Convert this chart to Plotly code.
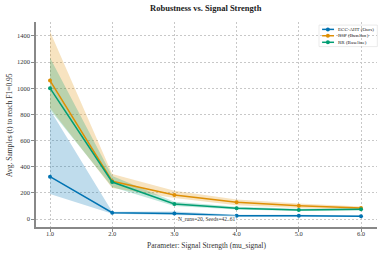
import plotly.graph_objects as go

x_vals = [1.0, 2.0, 3.0, 4.0, 5.0, 6.0]
tick_labels = ["1.0", "2.0", "3.0", "4.0", "5.0", "6.0"]

ecc_mean = [324, 48, 43, 25, 25, 21]
ecc_low = [191, 40, 30, 18, 18, 15]
ecc_high = [835, 56, 58, 32, 32, 27]

rsp_mean = [1059, 289, 184, 128, 102, 84]
rsp_low = [850, 237, 160, 105, 85, 72]
rsp_high = [1435, 345, 217, 150, 118, 96]

rr_mean = [1001, 283, 115, 82, 69, 74]
rr_low = [835, 245, 100, 72, 62, 66]
rr_high = [1233, 330, 132, 94, 78, 82]

names = ["ECC-AHT (Ours)", "RSP (Baseline)", "RR (Baseline)"]
colors = ["#0173B2", "#DE8F05", "#029E73"]
fills = ["rgba(1,115,178,0.25)", "rgba(222,143,5,0.25)", "rgba(2,158,115,0.25)"]

series = [(ecc_mean, ecc_low, ecc_high), (rsp_mean, rsp_low, rsp_high), (rr_mean, rr_low, rr_high)]

fig = go.Figure()
for (m, lo, hi), fc in zip(series, fills):
    fig.add_trace(go.Scatter(x=x_vals, y=hi, mode="lines", line=dict(width=0),
                             showlegend=False, hoverinfo="skip"))
    fig.add_trace(go.Scatter(x=x_vals, y=lo, mode="lines", line=dict(width=0),
                             fill="tonexty", fillcolor=fc, showlegend=False, hoverinfo="skip"))
for (m, lo, hi), name, c in zip(series, names, colors):
    fig.add_trace(go.Scatter(x=x_vals, y=m, mode="lines+markers", name=name,
                             line=dict(color=c, width=1.5),
                             marker=dict(color=c, size=4, symbol="circle"),
                             showlegend=False))

serif = "Liberation Serif"
txt = "#333333"

# compact legend (matplotlib-style), drawn in paper coordinates
leg_rows = [0.964, 0.933, 0.901]
shapes = [dict(type="rect", xref="paper", yref="paper", x0=0.830, x1=1.001, y0=0.880, y1=0.985,
               line=dict(color="#dddddd", width=0.6), fillcolor="rgba(255,255,255,0.9)",
               layer="between")]
annotations = []
for name, c, yy in zip(names, colors, leg_rows):
    shapes.append(dict(type="line", xref="paper", yref="paper", x0=0.839, x1=0.874, y0=yy, y1=yy,
                       line=dict(color=c, width=1.5), layer="above"))
    annotations.append(dict(text=name, xref="paper", yref="paper", x=0.881, y=yy,
                            xanchor="left", yanchor="middle", showarrow=False,
                            font=dict(family=serif, size=5, color="#222")))
fig.add_trace(go.Scatter(x=[0.856] * 3, y=leg_rows, xaxis="x2", yaxis="y2", mode="markers",
                         marker=dict(color=colors, size=4), showlegend=False, hoverinfo="skip"))

annotations += [
    dict(text="N_runs=20, Seeds=42..61", xref="paper", yref="paper",
         x=0.5, y=0.04, xanchor="center", yanchor="middle", showarrow=False,
         font=dict(family=serif, size=5.5, color=txt),
         bgcolor="rgba(255,255,255,0.8)", borderpad=0),
    dict(text="Parameter: Signal Strength (mu_signal)", xref="paper", yref="paper",
         x=0.5, y=-0.058, xanchor="center", yanchor="top", showarrow=False,
         font=dict(family=serif, size=7.5, color=txt)),
    dict(text="Avg. Samples (t) to reach F1=0.95", xref="paper", yref="paper",
         x=-0.078, y=0.5, xanchor="center", yanchor="middle", showarrow=False,
         textangle=-90, font=dict(family=serif, size=7.5, color=txt)),
]

fig.update_layout(
    width=381, height=253,
    margin=dict(l=36, r=4, t=22, b=26, autoexpand=False),
    paper_bgcolor="white", plot_bgcolor="white",
    font=dict(family=serif, size=6.5, color=txt),
    title=dict(text="<b>Robustness vs. Signal Strength</b>", x=0.54, xanchor="center",
               y=0.968, yanchor="middle", font=dict(family=serif, size=8.5, color="#222")),
    showlegend=False,
    xaxis=dict(range=[0.775, 6.257], tickvals=x_vals, ticktext=tick_labels,
               showgrid=True, gridcolor="#c8c8c8", griddash="2px,2px", gridwidth=0.6,
               showline=True, linecolor="#888", linewidth=1.5, ticks="outside",
               ticklen=3, tickcolor="#888", zeroline=False, automargin=False,
               ticklabelstandoff=-4,
               tickfont=dict(family=serif, size=6.5, color=txt)),
    yaxis=dict(range=[-61, 1507], tickvals=[0, 200, 400, 600, 800, 1000, 1200, 1400],
               showgrid=True, gridcolor="#c8c8c8", griddash="2px,2px", gridwidth=0.6,
               showline=True, linecolor="#888", linewidth=1.5, ticks="outside",
               ticklen=3, tickcolor="#888", zeroline=False, automargin=False,
               tickfont=dict(family=serif, size=6.5, color=txt)),
    xaxis2=dict(range=[0, 1], domain=[0, 1], overlaying="x", visible=False, fixedrange=True),
    yaxis2=dict(range=[0, 1], domain=[0, 1], overlaying="y", visible=False, fixedrange=True),
    shapes=shapes,
    annotations=annotations,
)

fig.write_html("out.html", config={"displayModeBar": False},
               post_script="document.body.style.margin='0';document.body.style.padding='0';")
